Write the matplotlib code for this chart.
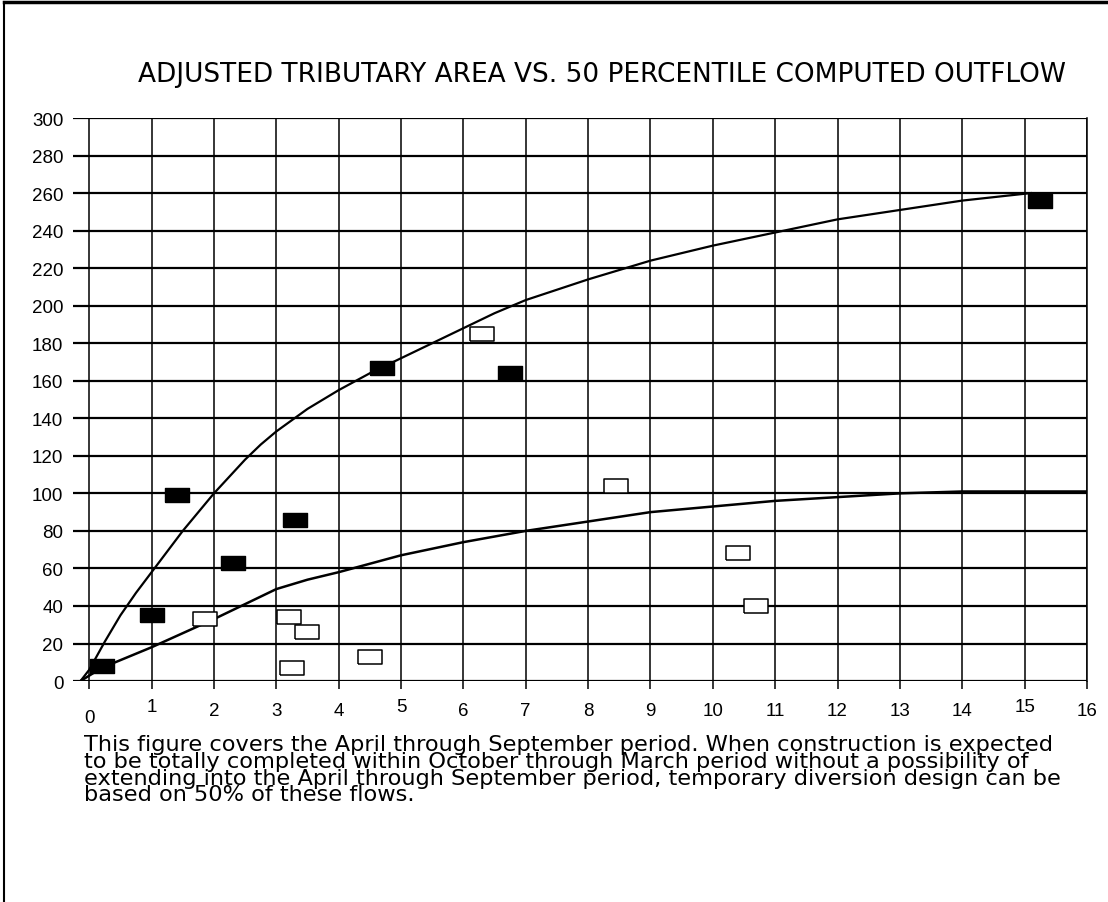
import numpy as np
import matplotlib
matplotlib.use("Agg")
import matplotlib.pyplot as plt
from matplotlib.lines import Line2D

plt.rcParams['font.family'] = ['Liberation Sans', 'DejaVu Sans']

# tributary area (x) vs 50 percentile computed outflow (y)
filled_x = [0.2, 1.0, 1.4, 2.3, 3.3, 4.7, 6.75, 15.25]
filled_y = [8, 35, 99, 63, 86, 167, 164, 256]

open_x = [1.85, 3.2, 3.5, 3.25, 4.5, 6.3, 8.45, 10.4, 10.7]
open_y = [33, 34, 26, 7, 13, 185, 104, 68, 40]

upper_x = [-0.14, 0, 0.25, 0.5, 0.75, 1, 1.25, 1.5, 1.75, 2, 2.25, 2.5, 2.75, 3, 3.5, 4,
           4.5, 5, 5.5, 6, 6.5, 7, 8, 9, 10, 11, 12, 13, 14, 15.1]
upper_y = [0, 6, 21, 35, 47, 58, 69, 80, 90, 100, 109, 118, 126, 133, 145, 155,
           164, 172, 180, 188, 196, 203, 214, 224, 232, 239, 246, 251, 256, 260]

lower_x = [-0.14, 0.2, 1, 2, 3, 3.5, 4, 5, 6, 7, 8, 9, 10, 11, 12, 13, 14, 15, 16]
lower_y = [0, 7, 18, 33, 49, 54, 58, 67, 74, 80, 85, 90, 93, 96, 98, 100, 101, 101, 101]

x_ticks = list(range(0, 17))
y_ticks = list(range(0, 301, 20))

title = "ADJUSTED TRIBUTARY AREA VS. 50 PERCENTILE COMPUTED OUTFLOW"
note = ("This figure covers the April through September period. When construction is expected\n"
        "to be totally completed within October through March period without a possibility of\n"
        "extending into the April through September period, temporary diversion design can be\n"
        "based on 50% of these flows.")

# wide rectangle marker
rect = [(-1, -0.62), (1, -0.62), (1, 0.62), (-1, 0.62), (-1, -0.62)]

fig = plt.figure(figsize=(11.08, 9.03), dpi=100)
ax = fig.add_axes([0.0659, 0.2447, 0.9151, 0.6235])

ax.set_xlim(-0.26, 16)
ax.set_ylim(0, 300)

for v in y_ticks:
    ax.axhline(v, color='black', lw=1.6, zorder=1)
for v in x_ticks:
    ax.axvline(v, color='black', lw=1.1, zorder=1)

ax.plot(upper_x, upper_y, color='black', lw=1.6, zorder=2)
ax.plot(lower_x, lower_y, color='black', lw=1.8, zorder=2)

ax.plot(filled_x, filled_y, linestyle='none', marker=rect, markersize=17,
        markerfacecolor='black', markeredgecolor='black', zorder=3)
ax.plot(open_x, open_y, linestyle='none', marker=rect, markersize=17,
        markerfacecolor='white', markeredgecolor='black', markeredgewidth=1.1, zorder=3)

for s in ['left', 'top', 'bottom']:
    ax.spines[s].set_visible(False)
ax.spines['right'].set_linewidth(1.1)

ax.set_xticks(x_ticks)
ax.set_yticks(y_ticks)
ax.tick_params(axis='x', length=6, width=1.1, direction='out', pad=9, labelsize=13.5)
ax.tick_params(axis='y', length=0, pad=7, labelsize=13.5)
xlabels = ax.get_xticklabels()
xlabels[0].set_y(-0.012)
for i in (1, 5, 15):
    xlabels[i].set_y(0.006)

fig.text(0.543, 0.917, title, ha='center', va='center', fontsize=19, family='DejaVu Sans')
fig.text(0.076, 0.186, note, ha='left', va='top', fontsize=16.2, family='DejaVu Sans',
         linespacing=0.8)

# page frame on the top and left edges
fig.add_artist(Line2D([0.004, 0.004], [0, 0.997], color='black', lw=1.5, transform=fig.transFigure))
fig.add_artist(Line2D([0.004, 1.0], [0.997, 0.997], color='black', lw=2.5, transform=fig.transFigure))

fig.savefig("out.png", dpi=100)
